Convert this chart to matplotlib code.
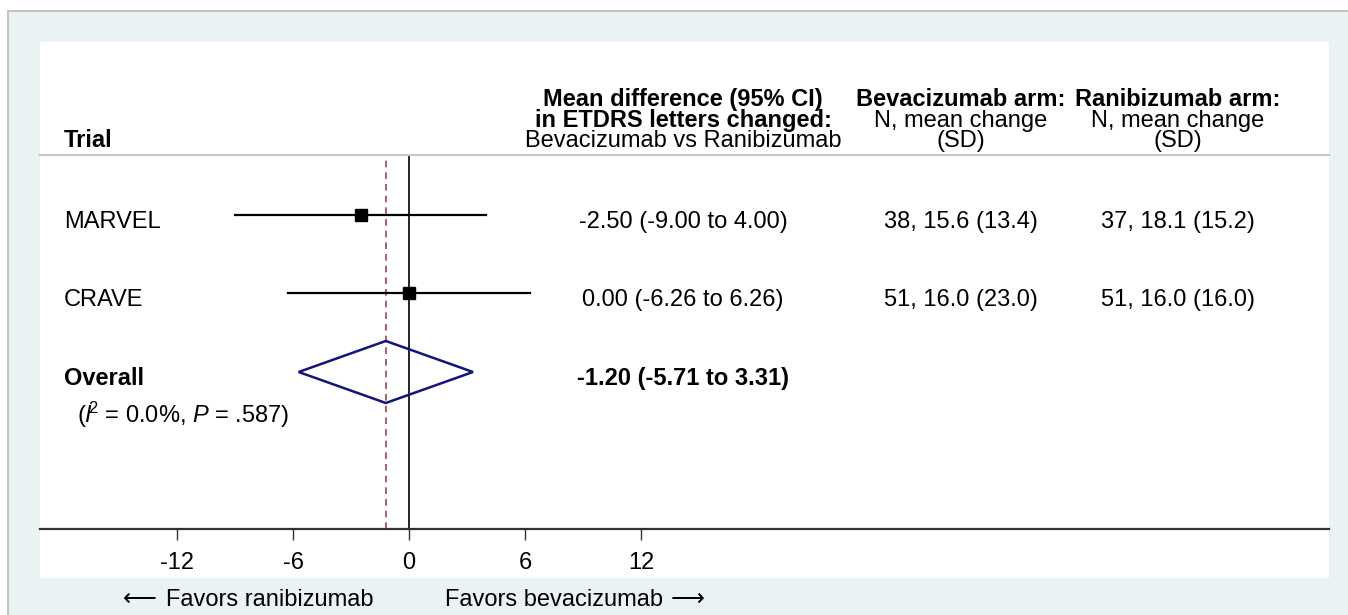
import matplotlib
matplotlib.use("Agg")
import matplotlib.pyplot as plt
from matplotlib.patches import Rectangle, Polygon
import numpy as np

plt.rcParams['font.family'] = ['Liberation Sans', 'DejaVu Sans']
plt.rcParams['mathtext.fontset'] = 'custom'
plt.rcParams['mathtext.rm'] = 'Liberation Sans'
plt.rcParams['mathtext.it'] = 'Liberation Sans:italic'
plt.rcParams['mathtext.bf'] = 'Liberation Sans:bold'

# data
trials = ['MARVEL', 'CRAVE']
md = [-2.50, 0.00]
lo = [-9.00, -6.26]
hi = [4.00, 6.26]
bev_arm = ['38, 15.6 (13.4)', '51, 16.0 (23.0)']
ran_arm = ['37, 18.1 (15.2)', '51, 16.0 (16.0)']
overall = -1.20
overall_lo = -5.71
overall_hi = 3.31
het_text = r'($\it{I}^{\!\!2}$ = 0.0%, $\it{P}$ = .587)'
xticks = [-12, -6, 0, 6, 12]

W, H = 1348, 615
fig = plt.figure(figsize=(W / 100, H / 100), dpi=100)
fig.patch.set_facecolor('white')

def fx(px):
    return px / W

def fy(py):
    return 1 - py / H

# outer gray panel and white plot region
fig.patches.append(Rectangle((fx(8), fy(H + 10)), fx(W + 10), fy(11) - fy(H + 10),
                             transform=fig.transFigure, facecolor='#eaf2f3',
                             edgecolor='#c4c4c4', lw=1.5, zorder=0))
fig.patches.append(Rectangle((fx(40), fy(578)), fx(1329 - 40), fy(42) - fy(578),
                             transform=fig.transFigure, facecolor='white',
                             edgecolor='none', zorder=0.5))

ax = fig.add_axes([fx(40), fy(529), fx(1329 - 40), fy(155) - fy(529)])
ax.set_zorder(2)
ax.set_facecolor('none')
ax.set_xlim(-369 / 19.33, 920 / 19.33)
ax.set_ylim(5.0, 0.236)
for s in ['left', 'right']:
    ax.spines[s].set_visible(False)
ax.spines['top'].set_color('#c8c8c8')
ax.spines['top'].set_linewidth(1.6)
ax.spines['bottom'].set_color('#333333')
ax.spines['bottom'].set_linewidth(1.6)
ax.set_yticks([])
ax.set_xticks(xticks)
ax.set_xticklabels([str(t) for t in xticks])
ax.tick_params(axis='x', length=8, width=1, pad=8.5, labelsize=17, color='#333333')

rows = np.arange(1, len(trials) + 1)
ov_row = len(trials) + 1

ax.axvline(0, color='black', lw=1.2, zorder=2)
ax.axvline(overall, color='#a0464c', lw=1.2, ls=(0, (4, 3)), zorder=2)

for r, m, l, h in zip(rows, md, lo, hi):
    ax.plot([l, h], [r, r], color='black', lw=1.6, zorder=3)
    ax.plot([m], [r], marker='s', ms=8, color='black', zorder=4)

dh = 0.395
ax.add_patch(Polygon([[overall_lo, ov_row], [overall, ov_row - dh],
                      [overall_hi, ov_row], [overall, ov_row + dh]],
                     closed=True, fill=False, edgecolor='#14147a', lw=1.8, zorder=3))

tr = ax.get_yaxis_transform()
fs = 17
off = 0.165
xl, xc1, xc2, xc3 = 0.0186, 0.4988, 0.7145, 0.8829
h1, h2, h3 = -0.39, -0.115, 0.14

# header
ax.text(xl, h3, 'Trial', transform=tr, fontsize=fs, fontweight='bold', va='baseline')
ax.text(xc1, h1, 'Mean difference (95% CI)', transform=tr, fontsize=fs,
        fontweight='bold', ha='center', va='baseline')
ax.text(xc1, h2, 'in ETDRS letters changed:', transform=tr, fontsize=fs,
        fontweight='bold', ha='center', va='baseline')
ax.text(xc1, h3, 'Bevacizumab vs Ranibizumab', transform=tr, fontsize=fs,
        ha='center', va='baseline')
for xc, name in [(xc2, 'Bevacizumab arm:'), (xc3, 'Ranibizumab arm:')]:
    ax.text(xc, h1, name, transform=tr, fontsize=fs, fontweight='bold',
            ha='center', va='baseline')
    ax.text(xc, h2, 'N, mean change', transform=tr, fontsize=fs,
            ha='center', va='baseline')
    ax.text(xc, h3, '(SD)', transform=tr, fontsize=fs, ha='center', va='baseline')

# rows
for r, name, m, l, h, b, rn in zip(rows, trials, md, lo, hi, bev_arm, ran_arm):
    ax.text(xl, r + off, name, transform=tr, fontsize=fs, va='baseline')
    ax.text(xc1, r + off, f'{m:.2f} ({l:.2f} to {h:.2f})', transform=tr,
            fontsize=fs, ha='center', va='baseline')
    ax.text(xc2, r + off, b, transform=tr, fontsize=fs, ha='center', va='baseline')
    ax.text(xc3, r + off, rn, transform=tr, fontsize=fs, ha='center', va='baseline')

ax.text(xl, ov_row + off, 'Overall', transform=tr, fontsize=fs,
        fontweight='bold', va='baseline')
ax.text(0.0287, ov_row + 0.65, het_text, transform=tr, fontsize=fs, va='baseline')
ax.text(xc1, ov_row + off,
        f'{overall:.2f} ({overall_lo:.2f} to {overall_hi:.2f})', transform=tr,
        fontsize=fs, fontweight='bold', ha='center', va='baseline')

# footer
fig.text(fx(123), fy(606), '\u27f5', fontsize=fs, family='DejaVu Sans', va='baseline')
fig.text(fx(166), fy(606), 'Favors ranibizumab', fontsize=fs, ha='left', va='baseline')
fig.text(fx(445), fy(606), 'Favors bevacizumab', fontsize=fs, ha='left', va='baseline')
fig.text(fx(671), fy(606), '\u27f6', fontsize=fs, family='DejaVu Sans', va='baseline')

fig.savefig('out.png', dpi=100, facecolor=fig.get_facecolor())
